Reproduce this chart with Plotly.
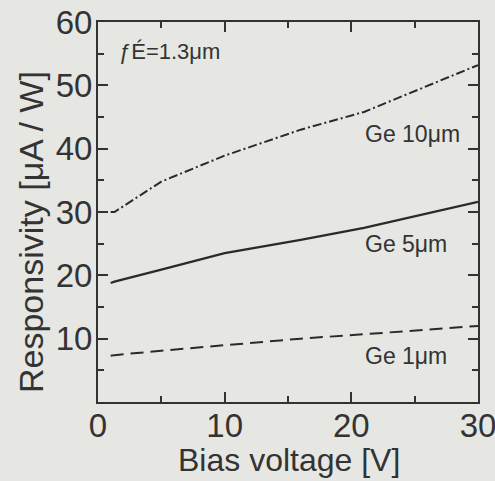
import plotly.graph_objects as go

# Data
bias_v = [1, 1.3, 5, 10, 16, 21, 30]
ge10 = [30.0, 30.0, 34.8, 38.9, 43.0, 45.8, 53.2]
ge5 = [18.8, 19.0, 20.9, 23.5, 25.6, 27.5, 31.6]
ge1 = [7.3, 7.4, 8.1, 9.0, 10.0, 10.7, 12.0]

series_names = ["Ge 10μm", "Ge 5μm", "Ge 1μm"]
x_ticks = [0, 10, 20, 30]
y_ticks = [10, 20, 30, 40, 50, 60]

BG = "#e6e6e3"
INK = "#2a2a2a"
FONT = "Liberation Sans, Arial, sans-serif"

# plot area in pixels (from reference)
L, R, T, B = 98, 478, 22, 402
W, H = 495, 481

fig = go.Figure()
fig.add_trace(go.Scatter(x=bias_v, y=ge10, mode="lines", name=series_names[0],
                         line=dict(color=INK, width=2, dash="9px,3px,2px,3px")))
fig.add_trace(go.Scatter(x=bias_v, y=ge5, mode="lines", name=series_names[1],
                         line=dict(color=INK, width=2.2)))
fig.add_trace(go.Scatter(x=bias_v, y=ge1, mode="lines", name=series_names[2],
                         line=dict(color=INK, width=2, dash="13px,7px")))

axis_common = dict(
    showline=True, linecolor="#333333", linewidth=2, mirror="ticks",
    ticks="inside", ticklen=10, tickwidth=2, tickcolor="#333333",
    showgrid=False, zeroline=False, ticklabeloverflow="allow",
    tickfont=dict(family=FONT, size=33, color="#333333"),
)

fig.update_xaxes(range=[0, 30], tickvals=x_ticks, ticktext=[str(v) for v in x_ticks],
                 ticklabelstandoff=-7,
                 minor=dict(dtick=5, ticks="inside", ticklen=6, tickwidth=2, tickcolor="#333333"),
                 **axis_common)
fig.update_yaxes(range=[0, 60], tickvals=y_ticks, ticktext=[str(v) for v in y_ticks],
                 ticklabelstandoff=-3,
                 minor=dict(dtick=5, ticks="inside", ticklen=6, tickwidth=2, tickcolor="#333333"),
                 **axis_common)

annos = [
    dict(x=1.5, y=55.3, text="ƒÉ=1.3μm", xanchor="left", size=22),
    dict(x=24.8, y=42.3, text=series_names[0], xanchor="center", size=23),
    dict(x=24.3, y=25.0, text=series_names[1], xanchor="center", size=23),
    dict(x=24.3, y=7.3, text=series_names[2], xanchor="center", size=23),
]
for a in annos:
    fig.add_annotation(x=a["x"], y=a["y"], xref="x", yref="y", text=a["text"],
                       showarrow=False, xanchor=a["xanchor"], yanchor="middle",
                       font=dict(family=FONT, size=a["size"], color="#333333"))

def px_to_paper(px, py):
    return (px - L) / (R - L), (B - py) / (B - T)

xt = px_to_paper(289, 460)
fig.add_annotation(x=xt[0], y=xt[1], xref="paper", yref="paper", text="Bias voltage [V]",
                   showarrow=False, xanchor="center", yanchor="middle",
                   font=dict(family=FONT, size=32, color="#333333"))
yt = px_to_paper(31, 232)
fig.add_annotation(x=yt[0], y=yt[1], xref="paper", yref="paper", text="Responsivity [μA / W]",
                   showarrow=False, textangle=-90, xanchor="center", yanchor="middle",
                   font=dict(family=FONT, size=34, color="#333333"))

fig.update_layout(
    width=W, height=H,
    margin=dict(l=L, r=W - R, t=T, b=H - B, autoexpand=False),
    paper_bgcolor=BG, plot_bgcolor=BG,
    showlegend=False,
)

fig.write_html("out.html", config={"displayModeBar": False},
               post_script="document.body.style.margin='0';document.body.style.background='%s';" % BG)
